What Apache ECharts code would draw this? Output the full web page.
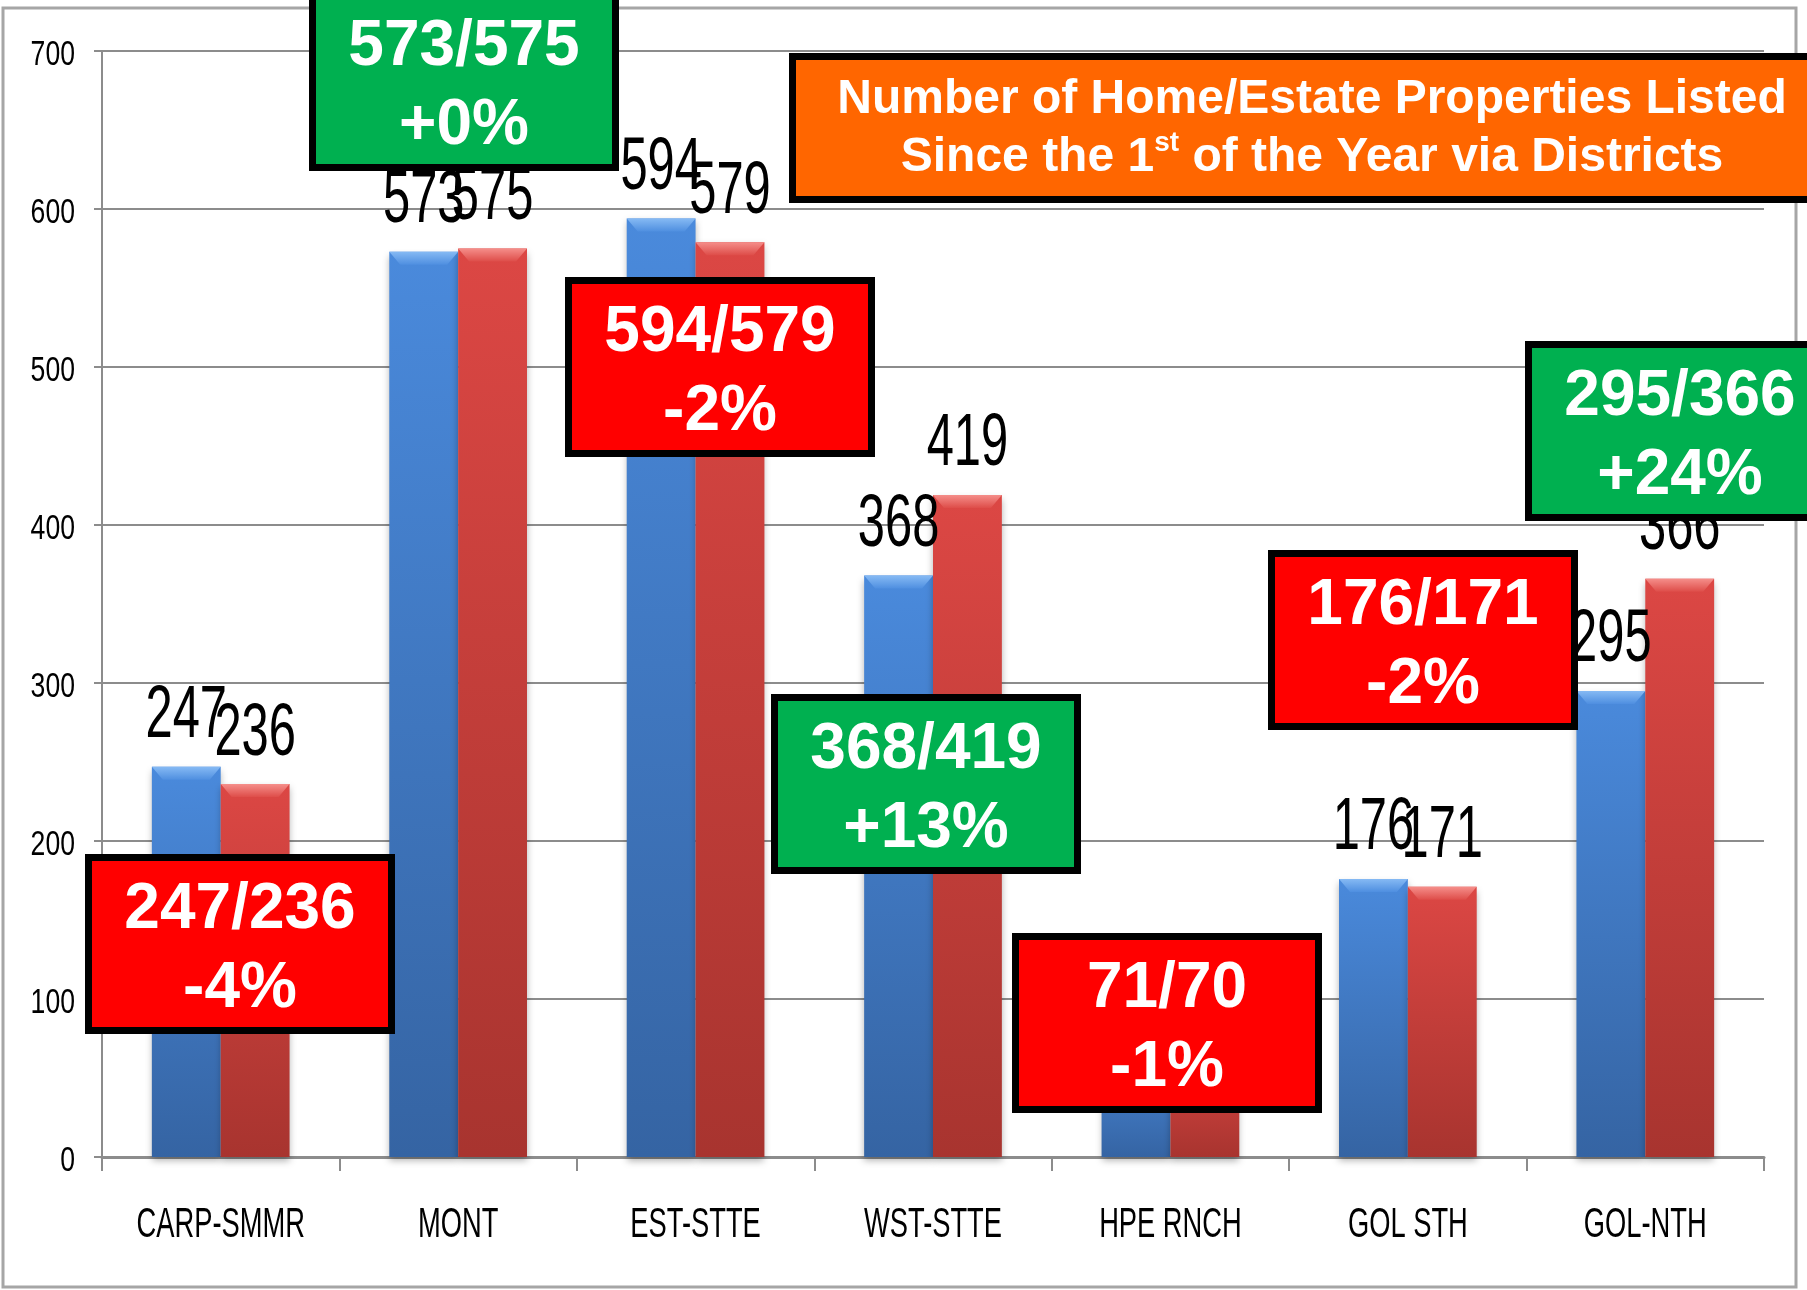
<!DOCTYPE html>
<html>
<head>
<meta charset="utf-8">
<script src="https://cdn.jsdelivr.net/npm/echarts@6/dist/echarts.min.js"></script>
<style>
  html, body { margin: 0; padding: 0; background: #fff; }
  #chart { width: 1807px; height: 1290px; }
</style>
</head>
<body>
<div id="chart"></div>
<script>
// districts and listing counts
const categories = ['CARP-SMMR', 'MONT', 'EST-STTE', 'WST-STTE', 'HPE RNCH', 'GOL STH', 'GOL-NTH'];
const lastYear = [247, 573, 594, 368, 71, 176, 295];
const thisYear = [236, 575, 579, 419, 70, 171, 366];
const yTicks = [0, 100, 200, 300, 400, 500, 600, 700];

// top-left corner of each comparison box (pixels)
const boxPos = [[85, 854], [309, -9], [565, 277], [771, 694], [1012, 933], [1268, 550], [1525, 341]];

const arial = "'Liberation Sans', Arial, sans-serif";
const catGap = 0.42;

const chart = echarts.init(document.getElementById('chart'));

function vgrad(top, bottom) {
  return new echarts.graphic.LinearGradient(0, 0, 0, 1, [
    { offset: 0, color: top },
    { offset: 1, color: bottom },
  ]);
}
const blue = vgrad('#4a8adc', '#3564a3');
const red = vgrad('#dc4744', '#a8342f');

// bevel + tall narrow value label on top of each bar (side -1 = left bar, +1 = right bar)
function barTopSeries(values, side, bevelTop, bevelBottom) {
  return {
    type: 'custom',
    z: 3,
    silent: true,
    data: values.map((v, i) => [i, v]),
    encode: { x: 0, y: 1 },
    renderItem(params, api) {
      const pt = api.coord([api.value(0), api.value(1)]);
      const base = api.coord([api.value(0), 0]);
      const band = api.size([1, 0])[0];
      const barW = band * (1 - catGap) / 2;
      const cx = pt[0] + side * barW / 2;
      const x0 = cx - barW / 2;
      const x1 = cx + barW / 2;
      const h = Math.min(13, base[1] - pt[1]);
      return {
        type: 'group',
        children: [
          {
            type: 'polygon',
            shape: { points: [[x0, pt[1]], [x1, pt[1]], [x1 - 11, pt[1] + h], [x0 + 11, pt[1] + h]] },
            style: { fill: vgrad(bevelTop, bevelBottom) },
          },
          {
            type: 'text',
            x: cx,
            y: pt[1] - 50,
            scaleX: 0.66,
            style: {
              text: String(api.value(1)),
              fill: '#000',
              fontFamily: arial,
              fontSize: 74,
              align: 'center',
              verticalAlign: 'middle',
            },
          },
        ],
      };
    },
  };
}

// y tick labels, narrow and tall
const yLabelSeries = {
  type: 'custom',
  z: 3,
  silent: true,
  data: yTicks.map(v => [0, v]),
  encode: { x: 0, y: 1 },
  renderItem(params, api) {
    const pt = api.coord([0, api.value(1)]);
    const band = api.size([1, 0])[0];
    return {
      type: 'text',
      x: pt[0] - band / 2 - 27,
      y: pt[1] + 4,
      scaleX: 0.76,
      style: {
        text: String(api.value(1)),
        fill: '#000',
        fontFamily: arial,
        fontSize: 35,
        align: 'right',
        verticalAlign: 'middle',
      },
    };
  },
};

// category labels, narrow and tall
const xLabelSeries = {
  type: 'custom',
  z: 3,
  silent: true,
  data: categories.map((c, i) => [i, 0]),
  encode: { x: 0, y: 1 },
  renderItem(params, api) {
    const pt = api.coord([params.dataIndex, 0]);
    return {
      type: 'text',
      x: pt[0],
      y: pt[1] + 68,
      scaleX: 0.65,
      style: {
        text: categories[params.dataIndex],
        fill: '#000',
        fontFamily: arial,
        fontSize: 42,
        align: 'center',
        verticalAlign: 'middle',
      },
    };
  },
};

// comparison boxes
const boxes = categories.map((c, i) => {
  const pct = Math.trunc((thisYear[i] - lastYear[i]) / lastYear[i] * 100);
  const up = pct >= 0;
  return {
    type: 'group',
    x: boxPos[i][0],
    y: boxPos[i][1],
    z: 100,
    children: [
      {
        type: 'rect',
        z: 100,
        shape: { x: 3.5, y: 3.5, width: 303, height: 173 },
        style: { fill: up ? '#00b050' : '#ff0000', stroke: '#000', lineWidth: 7 },
      },
      {
        type: 'text',
        z: 101,
        x: 155,
        y: 96,
        style: {
          text: lastYear[i] + '/' + thisYear[i] + '\n' + (up ? '+' : '') + pct + '%',
          fill: '#fff',
          fontFamily: arial,
          fontWeight: 'bold',
          fontSize: 64,
          lineHeight: 79,
          align: 'center',
          verticalAlign: 'middle',
        },
      },
    ],
  };
});

const option = {
  backgroundColor: '#fff',
  animation: false,
  grid: { left: 102, right: 43, top: 51, bottom: 133 },
  xAxis: {
    type: 'category',
    data: categories,
    axisLine: { lineStyle: { color: '#8c8c8c', width: 3 } },
    axisTick: { show: true, interval: 0, length: 14, lineStyle: { color: '#8c8c8c', width: 2 } },
    axisLabel: { show: false },
  },
  yAxis: {
    type: 'value',
    min: yTicks[0],
    max: yTicks[yTicks.length - 1],
    interval: yTicks[1] - yTicks[0],
    axisLine: { show: true, lineStyle: { color: '#8c8c8c', width: 2 } },
    axisTick: { show: true, length: 8, lineStyle: { color: '#8c8c8c', width: 2 } },
    axisLabel: { show: false },
    splitLine: { lineStyle: { color: '#8c8c8c', width: 2 } },
  },
  series: [
    {
      name: 'Last year',
      type: 'bar',
      data: lastYear,
      barGap: '0%',
      barCategoryGap: catGap * 100 + '%',
      itemStyle: { color: blue, shadowBlur: 7, shadowColor: 'rgba(0,0,0,0.3)', shadowOffsetY: 4 },
    },
    {
      name: 'This year',
      type: 'bar',
      data: thisYear,
      itemStyle: { color: red, shadowBlur: 7, shadowColor: 'rgba(0,0,0,0.3)', shadowOffsetY: 4 },
    },
    barTopSeries(lastYear, -1, '#86baf4', '#4f8fe0'),
    barTopSeries(thisYear, 1, '#f58e8a', '#de4d49'),
    yLabelSeries,
    xLabelSeries,
  ],
  graphic: [
    {
      type: 'rect',
      z: 0,
      shape: { x: 3, y: 8, width: 1793, height: 1279 },
      style: { fill: 'none', stroke: '#a6a6a6', lineWidth: 3 },
    },
    {
      type: 'group',
      x: 789,
      y: 53,
      z: 100,
      children: [
        {
          type: 'rect',
          z: 100,
          shape: { x: 3.5, y: 3.5, width: 1050, height: 143 },
          style: { fill: '#ff6600', stroke: '#000', lineWidth: 7 },
        },
        {
          type: 'text',
          z: 101,
          x: 523,
          y: 76,
          style: {
            text: 'Number of Home/Estate Properties Listed\nSince the 1{sup|st} of the Year via Districts',
            fill: '#fff',
            fontFamily: arial,
            fontWeight: 'bold',
            fontSize: 48,
            lineHeight: 58,
            align: 'center',
            verticalAlign: 'middle',
            rich: {
              sup: { fontFamily: arial, fontWeight: 'bold', fontSize: 28, fill: '#fff', verticalAlign: 'top', lineHeight: 58 },
            },
          },
        },
      ],
    },
  ].concat(boxes),
};

chart.setOption(option);
</script>
</body>
</html>
